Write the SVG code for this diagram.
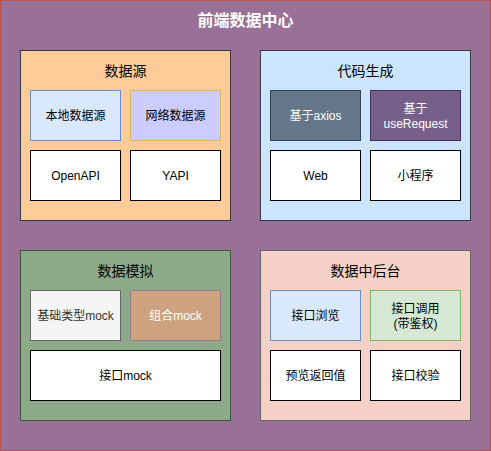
<svg xmlns="http://www.w3.org/2000/svg" width="491" height="451" viewBox="0 0 491 451">
<style>
text{font-family:"Liberation Sans","Noto Sans CJK SC",sans-serif;text-anchor:middle}
.t{font-size:12px;fill:#000}
.w{fill:#fff}
.pt{font-size:14px;fill:#000}
.box{stroke-width:1}
</style>
<rect x="0.5" y="0.5" width="490" height="450" fill="#997098" stroke="#b85450"/>
<text x="245.5" y="26" style="font-size:16px;font-weight:bold;fill:#fff">前端数据中心</text>

<g id="panel-datasource">
<rect x="20.5" y="50.5" width="210" height="170" fill="#ffcc99" stroke="#36393d"/>
<text class="pt" x="125.5" y="76">数据源</text>
</g>
<g id="local-source"><rect x="30.5" y="90.5" width="90" height="50" fill="#dae8fc" stroke="#6c8ebf"/><text class="t" x="75.5" y="120">本地数据源</text></g>
<g id="net-source"><rect x="130.5" y="90.5" width="90" height="50" fill="#ccccff" stroke="#d6b656"/><text class="t" x="175.5" y="120">网络数据源</text></g>
<g id="openapi"><rect x="30.5" y="150.5" width="90" height="50" fill="#fff" stroke="#000"/><text class="t" x="75.5" y="180">OpenAPI</text></g>
<g id="yapi"><rect x="130.5" y="150.5" width="90" height="50" fill="#fff" stroke="#000"/><text class="t" x="175.5" y="180">YAPI</text></g>

<g id="panel-codegen">
<rect x="260.5" y="50.5" width="210" height="170" fill="#cce5ff" stroke="#36393d"/>
<text class="pt" x="365.5" y="76">代码生成</text>
</g>
<g id="axios"><rect x="270.5" y="90.5" width="90" height="50" fill="#647687" stroke="#314354"/><text class="t w" x="315.5" y="120">基于axios</text></g>
<g id="userequest"><rect x="370.5" y="90.5" width="90" height="50" fill="#76608a" stroke="#432d57"/><text class="t w" x="415.5" y="113">基于</text><text class="t w" x="415.5" y="127.5">useRequest</text></g>
<g id="web"><rect x="270.5" y="150.5" width="90" height="50" fill="#fff" stroke="#000"/><text class="t" x="315.5" y="180">Web</text></g>
<g id="miniprogram"><rect x="370.5" y="150.5" width="90" height="50" fill="#fff" stroke="#000"/><text class="t" x="415.5" y="180">小程序</text></g>

<g id="panel-mock">
<rect x="20.5" y="250.5" width="210" height="170" fill="#8daa88" stroke="#3a5a32"/>
<text class="pt" x="125.5" y="276">数据模拟</text>
</g>
<g id="basic-mock"><rect x="30.5" y="290.5" width="90" height="50" fill="#f5f5f5" stroke="#666666"/><text class="t" x="75.5" y="320" style="fill:#333">基础类型mock</text></g>
<g id="combo-mock"><rect x="130.5" y="290.5" width="90" height="50" fill="#cca37e" stroke="#997a93"/><text class="t w" x="175.5" y="320">组合mock</text></g>
<g id="api-mock"><rect x="30.5" y="350.5" width="190" height="50" fill="#fff" stroke="#000"/><text class="t" x="125.5" y="380">接口mock</text></g>

<g id="panel-backoffice">
<rect x="260.5" y="250.5" width="210" height="170" fill="#f5d0c6" stroke="#666666"/>
<text class="pt" x="365.5" y="276">数据中后台</text>
</g>
<g id="api-browse"><rect x="270.5" y="290.5" width="90" height="50" fill="#dae8fc" stroke="#6c8ebf"/><text class="t" x="315.5" y="320">接口浏览</text></g>
<g id="api-call"><rect x="370.5" y="290.5" width="90" height="50" fill="#d5e8d4" stroke="#82b366"/><text class="t" x="415.5" y="313">接口调用</text><text class="t" x="415.5" y="327.5">(带鉴权)</text></g>
<g id="preview"><rect x="270.5" y="350.5" width="90" height="50" fill="#fff" stroke="#000"/><text class="t" x="315.5" y="380">预览返回值</text></g>
<g id="validate"><rect x="370.5" y="350.5" width="90" height="50" fill="#fff" stroke="#000"/><text class="t" x="415.5" y="380">接口校验</text></g>
<g id="connectors"></g>
</svg>
